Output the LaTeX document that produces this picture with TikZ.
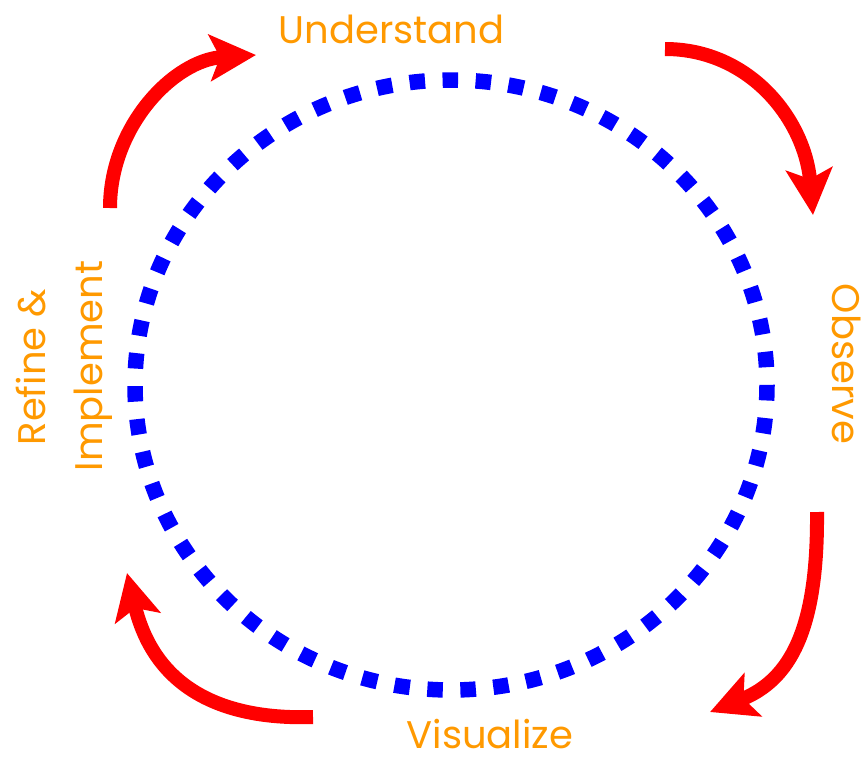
\documentclass[tikz,border=0pt]{standalone}
\usepackage{fontspec}
\setmainfont{Poppins}
\usetikzlibrary{arrows.meta}
\definecolor{lbl}{RGB}{255,153,0}
\definecolor{arr}{RGB}{255,0,0}
\definecolor{ring}{RGB}{0,0,255}
\begin{document}
\begin{tikzpicture}[x=1pt,y=-1pt,
  lab/.style={text=lbl,font=\fontsize{38.5}{57}\selectfont,inner sep=0pt},
  cyc/.style={draw=arr,line width=14pt,-{Stealth[length=46pt,width=46pt,inset=10pt]}}]
\useasboundingbox (0,0) rectangle (865,761);
\draw[ring,line width=15.5pt,dash pattern=on 15.5pt off 17.57pt] (451,385) ellipse [x radius=316,y radius=305];
\node[lab,anchor=base] (und) at (391.5,43) {Understand};
\node[lab,anchor=base,rotate=-90] (obs) at (832,364) {Observe};
\node[lab,anchor=base] (vis) at (490,748) {Visualize};
\node[lab,anchor=base,rotate=90] (ref) at (45,367) {Refine \&};
\node[lab,anchor=base,rotate=90] (imp) at (102,366) {Implement};
\coordinate (a1s) at (110,208); \coordinate (a1e) at (256,55);
\coordinate (a2s) at (665,49); \coordinate (a2e) at (813,215);
\coordinate (a3s) at (817,512); \coordinate (a3e) at (710,712);
\coordinate (a4s) at (313,717); \coordinate (a4e) at (127,573);
\draw[cyc] (a1s) .. controls (110,126) and (174,60) .. (a1e);
\draw[cyc] (a2s) .. controls (750,49) and (805,120) .. (a2e);
\draw[cyc] (a3s) .. controls (818,630) and (790,680) .. (a3e);
\draw[cyc] (a4s) .. controls (225,720) and (155,690) .. (a4e);
\end{tikzpicture}
\end{document}
